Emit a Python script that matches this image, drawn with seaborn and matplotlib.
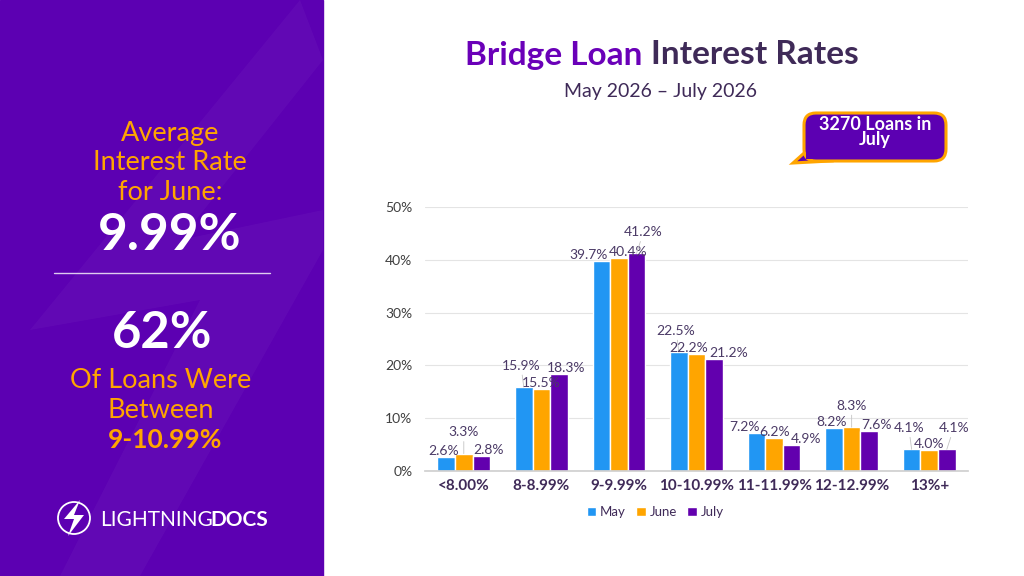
import numpy as np
import pandas as pd
import seaborn as sns
import matplotlib.pyplot as plt
from matplotlib.patches import Rectangle, FancyBboxPatch, Polygon, Circle

# chart data
buckets = ['<8.00%', '8-8.99%', '9-9.99%', '10-10.99%', '11-11.99%', '12-12.99%', '13%+']
months = ['May', 'June', 'July']
may = [2.6, 15.9, 39.7, 22.5, 7.2, 8.2, 4.1]
june = [3.3, 15.5, 40.4, 22.2, 6.2, 8.3, 4.0]
july = [2.8, 18.3, 41.2, 21.2, 4.9, 7.6, 4.1]
yticks = [0, 10, 20, 30, 40, 50]

# side panel text
side_lines = ['Average', 'Interest Rate', 'for June:']
avg_rate = '9.99%'
share = '62%'
share_lines = ['Of Loans Were', 'Between']
share_range = '9-10.99%'
loans_note = '3270 Loans in\nJuly'

panel = '#5C00B2'
orange = '#FFA500'
dark = '#3F2A58'
colors = ['#2196F3', '#FFA500', '#6200AE']

df = pd.DataFrame({
    'bucket': buckets * 3,
    'month': np.repeat(months, len(buckets)),
    'rate': may + june + july,
})

sns.set_theme(style='white')
plt.rcParams['font.family'] = ['Lato', 'DejaVu Sans']

fig = plt.figure(figsize=(10.24, 5.76), dpi=100)
fig.patch.set_facecolor('white')

# decoration layer in pixel units
deco = fig.add_axes([0, 0, 1, 1])
deco.set_xlim(0, 1024)
deco.set_ylim(576, 0)
deco.axis('off')
deco.add_patch(Rectangle((0, 0), 323, 576, color=panel, zorder=0))
# faint bolt in the background
deco.add_patch(Polygon([(300, 0), (30, 330), (200, 300), (60, 576), (140, 576), (323, 250), (323, 210), (180, 240), (323, 60)],
                       closed=True, fc='white', alpha=0.035, ec='none', zorder=0.5))

# left panel text
for i, line in enumerate(side_lines):
    deco.text(170, 133 + 30 * i, line, ha='center', va='center', fontsize=19.5, color=orange)
deco.text(170, 236, avg_rate, ha='center', va='center', fontsize=37, fontweight='bold', color='white')
deco.plot([54, 270], [273, 273], color='white', lw=1, alpha=0.8)
deco.text(162, 334, share, ha='center', va='center', fontsize=36.5, fontweight='bold', color='white')
for i, line in enumerate(share_lines):
    deco.text(161, 380 + 30 * i, line, ha='center', va='center', fontsize=19.5, color=orange)
deco.text(165, 440, share_range, ha='center', va='center', fontsize=19, fontweight='bold', color=orange)

# logo
deco.add_patch(Circle((74, 518), 16, fill=False, ec='white', lw=1.3))
deco.add_patch(Polygon([(80, 500), (64, 519), (74, 519), (68, 536), (84, 515), (74, 515)],
                       closed=True, fc='white', ec='none'))
deco.text(100, 520, 'LIGHTNING', ha='left', va='center', fontsize=15, color='white')
deco.text(268, 520, 'DOCS', ha='right', va='center', fontsize=15, color='white', fontweight='bold')

# title in two colours
renderer = fig.canvas.get_renderer()
t1 = deco.text(0, 55, 'Bridge Loan', ha='left', va='center', fontsize=24, fontweight='bold', color='#6A00B8')
t2 = deco.text(0, 55, 'Interest Rates', ha='left', va='center', fontsize=24, fontweight='bold', color=dark)
w1 = t1.get_window_extent(renderer).width
w2 = t2.get_window_extent(renderer).width
gap = 8
start = 662 - (w1 + gap + w2) / 2
t1.set_x(start)
t2.set_x(start + w1 + gap)
deco.text(661, 91, 'May 2026 \u2013 July 2026', ha='center', va='center', fontsize=14, color=dark)

# callout
deco.add_patch(Polygon([(812, 146), (793, 163), (830, 161)], closed=True, fc=panel, ec=orange, lw=2.2, zorder=2))
deco.add_patch(FancyBboxPatch((804, 113), 142, 48, boxstyle='round,pad=0,rounding_size=12',
                              fc=panel, ec=orange, lw=2.2, zorder=3))
deco.add_patch(Rectangle((806, 148), 14, 11, fc=panel, ec='none', zorder=4))
deco.text(875, 132, loans_note, ha='center', va='center', fontsize=13, fontweight='bold', color='white',
          linespacing=0.8, zorder=5)

# chart
ax = fig.add_axes([425 / 1024, 105 / 576, 543 / 1024, 264 / 576])
sns.barplot(data=df, x='bucket', y='rate', hue='month', palette=colors, width=0.68,
            saturation=1, errorbar=None, ax=ax)
ax.set_ylim(0, 50)
ax.set_yticks(yticks)
ax.set_yticklabels([f'{t}%' for t in yticks], fontsize=10, color='#404040')
ax.set_xlabel('')
ax.set_ylabel('')
ax.grid(axis='y', color='#E4E4E4', lw=0.8)
ax.set_axisbelow(True)
for s in ['top', 'right', 'left']:
    ax.spines[s].set_visible(False)
ax.spines['bottom'].set_color('#D0D0D0')
ax.tick_params(axis='y', length=0, pad=9)
ax.tick_params(axis='x', length=0, pad=6)
for lab in ax.get_xticklabels():
    lab.set_fontsize(11)
    lab.set_fontweight('bold')
    lab.set_color(dark)

# value labels, lifting the higher of two close neighbours
series = [may, june, july]
dx = [-2, 0, 5]
for j in range(len(buckets)):
    vals = [s[j] for s in series]
    raised = set()
    for k in range(2):
        if abs(vals[k] - vals[k + 1]) < 0.95:
            raised.add(k if vals[k] >= vals[k + 1] else k + 1)
    if 1 in raised and (0 in raised or 2 in raised):
        other = 0 if 0 in raised else 2
        raised.discard(1 if vals[1] < vals[other] else other)
    anns = []
    for k, cont in enumerate(ax.containers):
        bar = cont[j]
        cx = bar.get_x() + bar.get_width() / 2
        if k in raised:
            a = ax.annotate(f'{vals[k]:.1f}%', xy=(cx, vals[k]), xytext=(dx[k], 11), textcoords='offset points',
                            ha='center', va='bottom', fontsize=10, color='#4B3A66',
                            arrowprops=dict(arrowstyle='-', color='#C4C4C4', lw=0.6, shrinkA=0, shrinkB=0))
        else:
            a = ax.annotate(f'{vals[k]:.1f}%', xy=(cx, vals[k]), xytext=(dx[k], 0), textcoords='offset points',
                            ha='center', va='bottom', fontsize=10, color='#4B3A66')
        anns.append(a)
    # push apart neighbours that sit at the same height
    for _ in range(2):
        for k in range(2):
            if k in raised or (k + 1) in raised:
                continue
            b0 = anns[k].get_window_extent(renderer)
            b1 = anns[k + 1].get_window_extent(renderer)
            if b0.x1 > b1.x0 and b0.y1 > b1.y0 and b1.y1 > b0.y0:
                shift = (b0.x1 - b1.x0 + 1) * 72 / fig.dpi / 2
                x0, y0 = anns[k].xyann
                x1, y1 = anns[k + 1].xyann
                anns[k].xyann = (x0 - shift, y0)
                anns[k + 1].xyann = (x1 + shift, y1)

handles, labels = ax.get_legend_handles_labels()
leg = ax.legend(handles, labels, loc='center', bbox_to_anchor=(0.424, -0.155), ncol=3, frameon=False,
                fontsize=9.5, handlelength=0.7, handleheight=0.7, handletextpad=0.3, columnspacing=0.8)
for txt in leg.get_texts():
    txt.set_color(dark)

fig.savefig('out.png', dpi=100)
